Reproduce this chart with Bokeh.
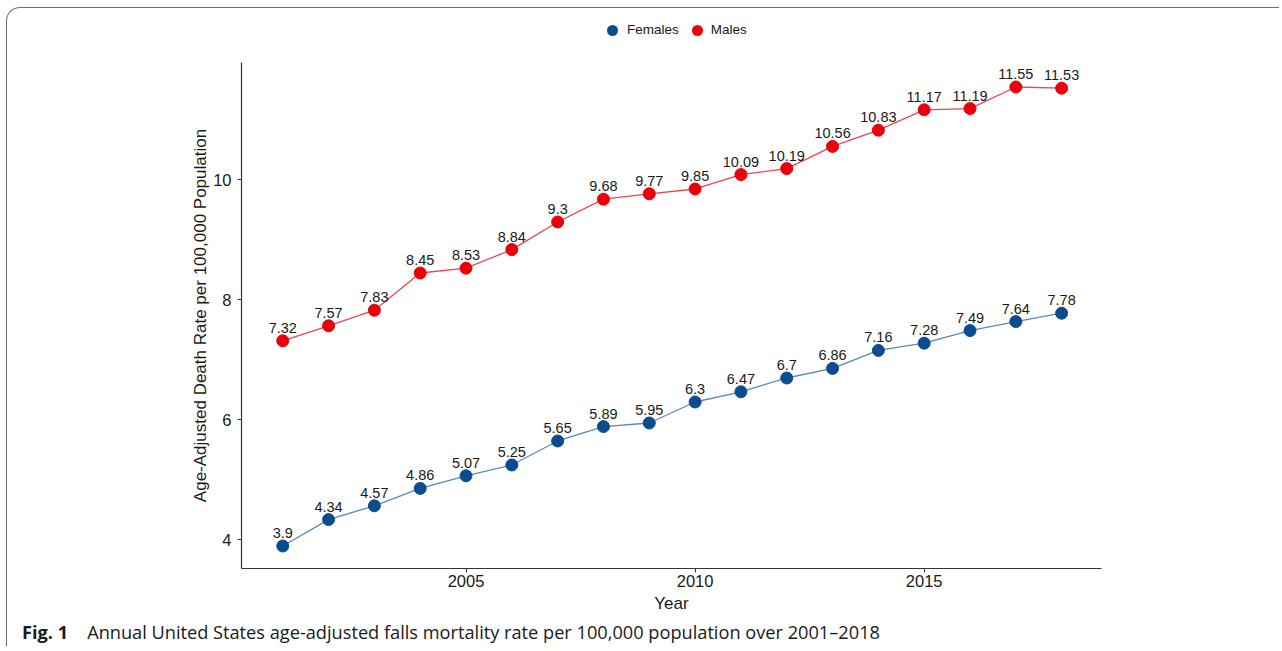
from bokeh.plotting import figure
from bokeh.layouts import column
from bokeh.models import ColumnDataSource, Range1d, FixedTicker, LabelSet, Div
from bokeh.core.properties import value
from bokeh.embed import file_html
from bokeh.resources import INLINE

years = list(range(2001, 2019))
females = [3.9, 4.34, 4.57, 4.86, 5.07, 5.25, 5.65, 5.89, 5.95, 6.3, 6.47, 6.7, 6.86, 7.16, 7.28, 7.49, 7.64, 7.78]
males = [7.32, 7.57, 7.83, 8.45, 8.53, 8.84, 9.3, 9.68, 9.77, 9.85, 10.09, 10.19, 10.56, 10.83, 11.17, 11.19, 11.55, 11.53]
female_labels = ["3.9", "4.34", "4.57", "4.86", "5.07", "5.25", "5.65", "5.89", "5.95", "6.3", "6.47", "6.7", "6.86", "7.16", "7.28", "7.49", "7.64", "7.78"]
male_labels = ["7.32", "7.57", "7.83", "8.45", "8.53", "8.84", "9.3", "9.68", "9.77", "9.85", "10.09", "10.19", "10.56", "10.83", "11.17", "11.19", "11.55", "11.53"]
series_names = ["Females", "Males"]
x_ticks = [2005, 2010, 2015]
y_ticks = [4, 6, 8, 10]

F_PT = "#0b4c8f"
F_LN = "#5a88b8"
M_PT = "#e8000b"
M_LN = "#e8474c"
FONT = "Liberation Sans"
CAP_FONT = "Open Sans"

W = 1272
p = figure(width=W, height=570, output_backend="svg", toolbar_location=None,
           x_range=Range1d(2000.1, 2018.87), y_range=Range1d(3.525, 11.958),
           min_border_left=234, min_border_right=178, min_border_top=10, min_border_bottom=54)
p.outline_line_color = None
p.xgrid.grid_line_color = None
p.ygrid.grid_line_color = None
p.background_fill_color = "white"
p.border_fill_color = "white"

fsrc = ColumnDataSource(dict(x=years, y=females, lab=female_labels))
msrc = ColumnDataSource(dict(x=years, y=males, lab=male_labels))

p.line("x", "y", source=fsrc, line_color=F_LN, line_width=1.3)
p.line("x", "y", source=msrc, line_color=M_LN, line_width=1.3)
p.scatter("x", "y", source=fsrc, size=12, fill_color=F_PT, line_color=F_PT)
p.scatter("x", "y", source=msrc, size=12, fill_color=M_PT, line_color=M_PT)

for src in (fsrc, msrc):
    p.add_layout(LabelSet(x="x", y="y", text="lab", source=src, y_offset=8,
                          text_align="center", text_baseline="bottom",
                          text_font=value(FONT), text_font_size="14.5px", text_color="#1a1a1a"))

for ax in (p.xaxis[0], p.yaxis[0]):
    ax.axis_line_color = "#333333"
    ax.axis_line_width = 1.2
    ax.major_tick_line_color = "#333333"
    ax.major_tick_out = 4
    ax.major_tick_in = 0
    ax.minor_tick_line_color = None
    ax.major_label_text_font = FONT
    ax.major_label_text_font_size = "16.5px"
    ax.major_label_text_color = "#1a1a1a"
    ax.axis_label_text_font = FONT
    ax.axis_label_text_font_size = "17px"
    ax.axis_label_text_font_style = "normal"
    ax.axis_label_text_color = "#1a1a1a"

p.xaxis.ticker = FixedTicker(ticks=x_ticks)
p.yaxis.ticker = FixedTicker(ticks=y_ticks)
p.xaxis.axis_label = "Year"
p.yaxis.axis_label = "Age-Adjusted Death Rate per 100,000 Population"
p.xaxis.major_label_standoff = 2
p.xaxis.axis_label_standoff = 4
p.yaxis.major_label_standoff = 6
p.yaxis.axis_label_standoff = 0


def dot(color, ml):
    return (f'<span style="display:inline-block;width:11px;height:11px;border-radius:50%;'
            f'background:{color};vertical-align:middle;margin-left:{ml}px"></span>')


legend_html = (dot(F_PT, 0) + f'<span style="margin-left:9px;vertical-align:middle">{series_names[0]}</span>'
               + dot(M_PT, 13) + f'<span style="margin-left:8px;vertical-align:middle">{series_names[1]}</span>')
legend_div = Div(text=legend_html, width=W, height=44, margin=0,
                 styles={"font-family": FONT, "font-size": "13.5px", "color": "#1a1a1a",
                         "padding-left": "600px", "line-height": "44px"})

caption = Div(text="<b>Fig. 1</b><span style=\"margin-left:19px\">Annual United States age-adjusted falls "
                   "mortality rate per 100,000 population over 2001\u20132018</span>",
              width=W, height=24, margin=0,
              styles={"font-family": CAP_FONT, "font-size": "18.2px", "color": "#1a1a1a",
                      "padding-left": "15px", "line-height": "21px"})

layout = column(legend_div, p, caption, spacing=0)
layout.styles = {"margin-left": "6px", "margin-top": "7px",
                 "border-left": "1.5px solid #6e6e6e", "border-top": "1.5px solid #6e6e6e",
                 "border-top-left-radius": "14px"}

open("out.html", "w").write(file_html(layout, INLINE))
